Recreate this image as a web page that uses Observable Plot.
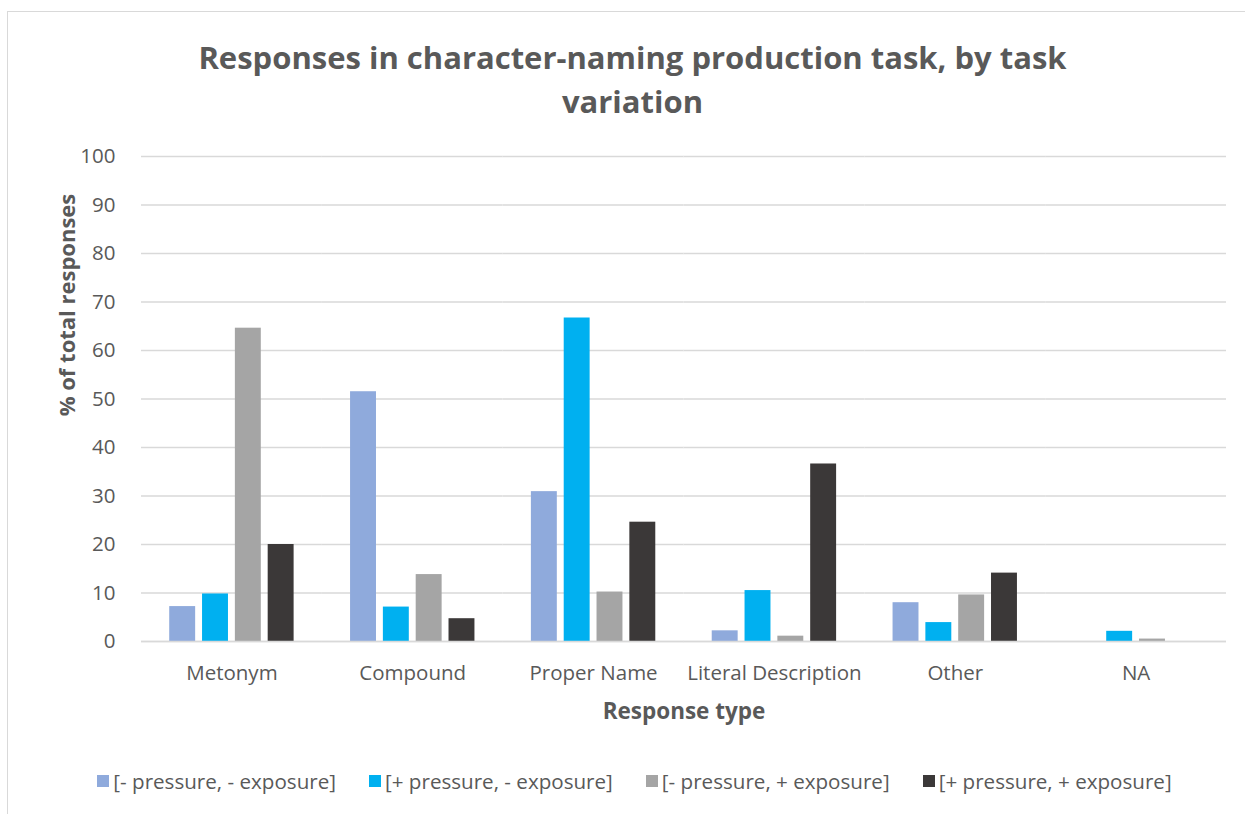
<!DOCTYPE html>
<html>
<head>
<meta charset="utf-8">
<script src="https://cdn.jsdelivr.net/npm/d3@7"></script>
<script src="https://cdn.jsdelivr.net/npm/@observablehq/plot@0.6"></script>
<style>
  html, body { margin: 0; padding: 0; background: #fff; }
  #wrap { position: relative; width: 1245px; height: 814px; overflow: hidden; font-family: "Open Sans", sans-serif; color: #595959; }
  #frame { position: absolute; left: 7px; top: 11px; width: 1240px; height: 820px; border: 1px solid #d9d9d9; box-sizing: border-box; }
  #title { position: absolute; left: 0; top: 35px; width: 1265px; text-align: center; font-weight: bold; font-size: 31px; line-height: 44px; color: #595959; }
  #ylabel { position: absolute; left: 66px; top: 305px; transform: translate(-50%, -50%) rotate(-90deg); white-space: nowrap; font-weight: bold; font-size: 22px; color: #595959; }
  #chart { position: absolute; left: 0; top: 130px; }
  #legend { position: absolute; left: 0; top: 767px; width: 1269px; display: flex; justify-content: center; gap: 33px; font-size: 20.6px; color: #595959; }
  #legend .item { display: flex; align-items: center; white-space: nowrap; }
  #legend .sw { width: 12px; height: 12px; margin-right: 4px; }
  #chart svg [aria-label="y-axis tick label"], #chart svg [aria-label="fx-axis tick label"] { font-size: 20.5px; fill: #595959; }
  #chart svg [aria-label="fx-axis label"] { font-size: 22.5px; font-weight: bold; fill: #595959; }
</style>
</head>
<body>
<div id="wrap">
  <div id="frame"></div>
  <div id="title">Responses in character-naming production task, by task<br>variation</div>
  <div id="ylabel">% of total responses</div>
  <div id="chart"></div>
  <div id="legend"></div>
</div>
<script>
const categories = ["Metonym", "Compound", "Proper Name", "Literal Description", "Other", "NA"];
const seriesNames = ["[- pressure, - exposure]", "[+ pressure, - exposure]", "[- pressure, + exposure]", "[+ pressure, + exposure]"];
const seriesColors = ["#8faadc", "#00b0f0", "#a5a5a5", "#3b3838"];
const lowPressureLowExposure  = [7.2, 51.5, 30.9, 2.2, 8.0, 0];
const highPressureLowExposure = [9.8, 7.1, 66.7, 10.5, 3.9, 2.1];
const lowPressureHighExposure = [64.6, 13.8, 10.2, 1.1, 9.6, 0.5];
const highPressureHighExposure = [20.0, 4.7, 24.6, 36.6, 14.1, 0];
const yTicks = [0, 10, 20, 30, 40, 50, 60, 70, 80, 90, 100];

const seriesValues = [lowPressureLowExposure, highPressureLowExposure, lowPressureHighExposure, highPressureHighExposure];
const data = [];
categories.forEach((c, i) => {
  seriesNames.forEach((s, j) => {
    data.push({category: c, series: s, value: seriesValues[j][i]});
  });
});

const chart = Plot.plot({
  width: 1245,
  height: 600,
  marginTop: 26,
  marginBottom: 89,
  marginLeft: 141,
  marginRight: 19,
  style: {fontFamily: "'Open Sans', sans-serif", background: "transparent"},
  fx: {domain: categories, padding: 0, round: false, label: "Response type"},
  x: {domain: seriesNames, paddingInner: 0.21, paddingOuter: 0.86, round: false, axis: null},
  y: {domain: [0, 100], label: null},
  color: {domain: seriesNames, range: seriesColors},
  marks: [
    Plot.gridY(yTicks, {stroke: "#d9d9d9", strokeOpacity: 1, strokeWidth: 1.3}),
    Plot.barY(data, {fx: "category", x: "series", y: "value", fill: "series"}),
    Plot.ruleY([0], {stroke: "#d9d9d9", strokeWidth: 1.5}),
    Plot.axisY(yTicks, {tickSize: 0, tickPadding: 26, label: null}),
    Plot.axisFx({anchor: "bottom", tickSize: 0, tickPadding: 24, label: "Response type", labelAnchor: "center", labelArrow: "none", labelOffset: 77})
  ]
});
document.getElementById("chart").appendChild(chart);

const legend = document.getElementById("legend");
seriesNames.forEach((s, i) => {
  const item = document.createElement("div");
  item.className = "item";
  const sw = document.createElement("span");
  sw.className = "sw";
  sw.style.background = seriesColors[i];
  const t = document.createElement("span");
  t.textContent = s;
  item.appendChild(sw);
  item.appendChild(t);
  legend.appendChild(item);
});
</script>
</body>
</html>
